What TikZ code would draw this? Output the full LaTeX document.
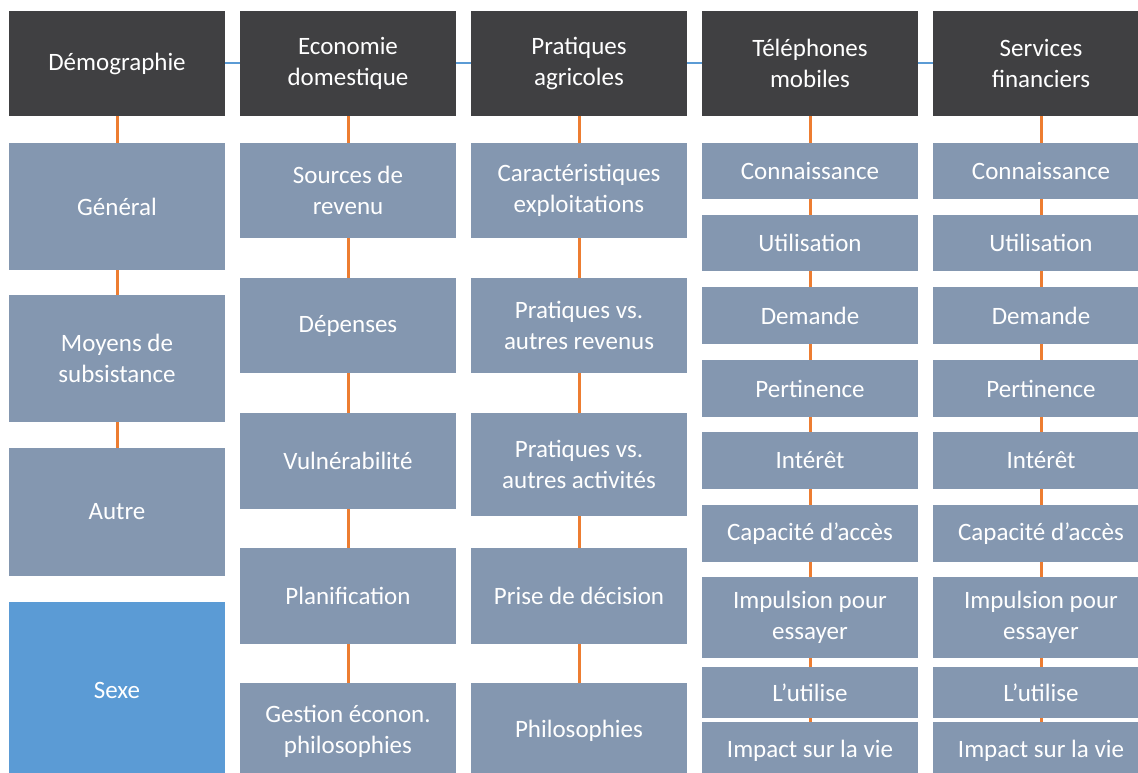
\documentclass[tikz,border=0pt]{standalone}
\usepackage{fontspec}
\setmainfont{Carlito}
\definecolor{hdrc}{HTML}{404042}
\definecolor{subc}{HTML}{8497B0}
\definecolor{sexc}{HTML}{5B9BD5}
\definecolor{orc}{HTML}{ED7D31}
\definecolor{blc}{HTML}{5B9BD5}
\tikzset{
  box/.style={minimum width=216pt, inner sep=0pt, text=white, align=center,
    font=\fontsize{25}{31}\selectfont},
  hdr/.style={box, fill=hdrc, minimum height=105pt},
  sub/.style={box, fill=subc},
  sexbox/.style={box, fill=sexc},
  olink/.style={draw=orc, line width=3pt},
  blink/.style={draw=blc, line width=2pt}
}
\begin{document}
\begin{tikzpicture}[x=1pt,y=-1pt]
\useasboundingbox (0,0) rectangle (1138,773);
\clip (0,0) rectangle (1138,773);
% headers
\node[hdr] (h1) at (117,63.5) {Démographie};
\node[hdr] (h2) at (348,63.5) {Economie\\domestique};
\node[hdr] (h3) at (579,63.5) {Pratiques\\agricoles};
\node[hdr] (h4) at (810,63.5) {Téléphones\\mobiles};
\node[hdr] (h5) at (1041,63.5) {Services\\financiers};
% column 1
\node[sub, minimum height=127pt] (a1) at (117,206.5) {Général};
\node[sub, minimum height=127pt] (a2) at (117,358.5) {Moyens de\\subsistance};
\node[sub, minimum height=128pt] (a3) at (117,512) {Autre};
\node[sexbox, minimum height=176pt] (a4) at (117,690) {Sexe};
% column 2
\node[sub, minimum height=95pt] (b1) at (348,190.5) {Sources de\\revenu};
\node[sub, minimum height=95pt] (b2) at (348,325.5) {Dépenses};
\node[sub, minimum height=96pt] (b3) at (348,461) {Vulnérabilité};
\node[sub, minimum height=96pt] (b4) at (348,596) {Planification};
\node[sub, minimum height=96pt] (b5) at (348,731) {Gestion éconon.\\philosophies};
% column 3
\node[sub, minimum height=95pt] (c1) at (579,190.5) {Caractéristiques\\exploitations};
\node[sub, minimum height=95pt] (c2) at (579,325.5) {Pratiques vs.\\autres revenus};
\node[sub, minimum height=103pt] (c3) at (579,464.5) {Pratiques vs.\\autres activités};
\node[sub, minimum height=96pt] (c4) at (579,596) {Prise de décision};
\node[sub, minimum height=96pt] (c5) at (579,731) {Philosophies};
% column 4
\node[sub, minimum height=56pt] (d1) at (810,171) {Connaissance};
\node[sub, minimum height=56pt] (d2) at (810,243) {Utilisation};
\node[sub, minimum height=57pt] (d3) at (810,315.5) {Demande};
\node[sub, minimum height=57pt] (d4) at (810,388.5) {Pertinence};
\node[sub, minimum height=57pt] (d5) at (810,460.5) {Intérêt};
\node[sub, minimum height=57pt] (d6) at (810,533.5) {Capacité d’accès};
\node[sub, minimum height=81pt] (d7) at (810,617.5) {Impulsion pour\\essayer};
\node[sub, minimum height=51pt] (d8) at (810,692.5) {L’utilise};
\node[sub, minimum height=58pt] (d9) at (810,751) {Impact sur la vie};
% column 5
\node[sub, minimum height=56pt] (e1) at (1041,171) {Connaissance};
\node[sub, minimum height=56pt] (e2) at (1041,243) {Utilisation};
\node[sub, minimum height=57pt] (e3) at (1041,315.5) {Demande};
\node[sub, minimum height=57pt] (e4) at (1041,388.5) {Pertinence};
\node[sub, minimum height=57pt] (e5) at (1041,460.5) {Intérêt};
\node[sub, minimum height=57pt] (e6) at (1041,533.5) {Capacité d’accès};
\node[sub, minimum height=81pt] (e7) at (1041,617.5) {Impulsion pour\\essayer};
\node[sub, minimum height=51pt] (e8) at (1041,692.5) {L’utilise};
\node[sub, minimum height=58pt] (e9) at (1041,751) {Impact sur la vie};
% horizontal links
\draw[blink] (h1.east) -- (h2.west);
\draw[blink] (h2.east) -- (h3.west);
\draw[blink] (h3.east) -- (h4.west);
\draw[blink] (h4.east) -- (h5.west);
% vertical links
\draw[olink] (h1.south) -- (a1.north);
\draw[olink] (a1.south) -- (a2.north);
\draw[olink] (a2.south) -- (a3.north);
\draw[olink] (h2.south) -- (b1.north);
\draw[olink] (b1.south) -- (b2.north);
\draw[olink] (b2.south) -- (b3.north);
\draw[olink] (b3.south) -- (b4.north);
\draw[olink] (b4.south) -- (b5.north);
\draw[olink] (h3.south) -- (c1.north);
\draw[olink] (c1.south) -- (c2.north);
\draw[olink] (c2.south) -- (c3.north);
\draw[olink] (c3.south) -- (c4.north);
\draw[olink] (c4.south) -- (c5.north);
\draw[olink] (h4.south) -- (d1.north);
\draw[olink] (d1.south) -- (d2.north);
\draw[olink] (d2.south) -- (d3.north);
\draw[olink] (d3.south) -- (d4.north);
\draw[olink] (d4.south) -- (d5.north);
\draw[olink] (d5.south) -- (d6.north);
\draw[olink] (d6.south) -- (d7.north);
\draw[olink] (d7.south) -- (d8.north);
\draw[olink] (d8.south) -- (d9.north);
\draw[olink] (h5.south) -- (e1.north);
\draw[olink] (e1.south) -- (e2.north);
\draw[olink] (e2.south) -- (e3.north);
\draw[olink] (e3.south) -- (e4.north);
\draw[olink] (e4.south) -- (e5.north);
\draw[olink] (e5.south) -- (e6.north);
\draw[olink] (e6.south) -- (e7.north);
\draw[olink] (e7.south) -- (e8.north);
\draw[olink] (e8.south) -- (e9.north);
\end{tikzpicture}
\end{document}
